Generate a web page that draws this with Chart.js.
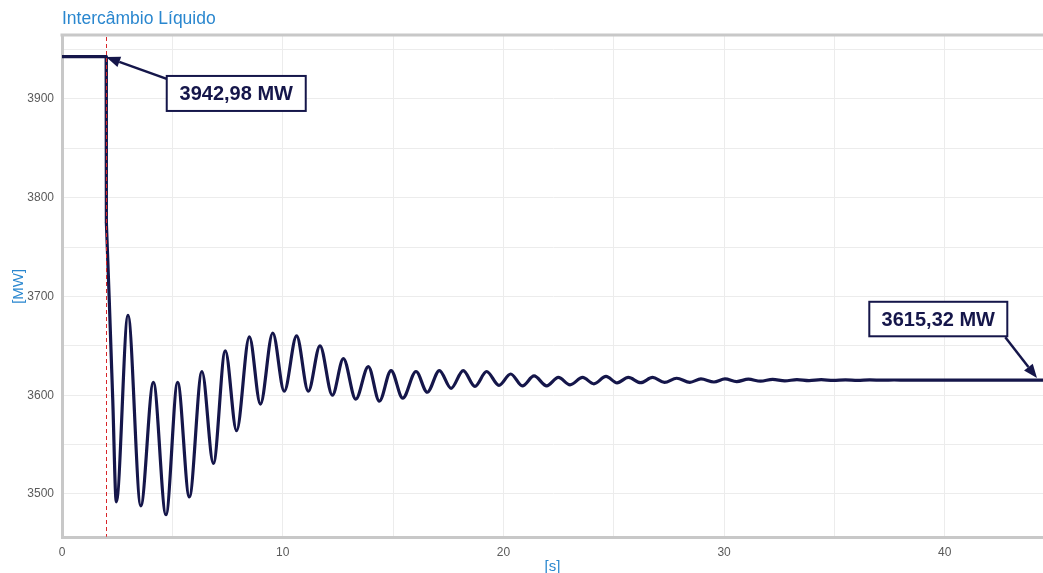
<!DOCTYPE html>
<html lang="pt">
<head>
<meta charset="utf-8">
<title>Intercâmbio Líquido</title>
<script src="https://cdn.jsdelivr.net/npm/chart.js@4/dist/chart.umd.min.js"></script>
<style>
  html, body { margin: 0; padding: 0; background: #ffffff; }
  #wrap { width: 1043px; height: 573px; position: relative; }
</style>
</head>
<body>
<div id="wrap"><canvas id="chart" width="1043" height="573"></canvas></div>
<script>
// Time axis (s) and net interchange (MW) at the turning points of the response
const timeS = [
  0, 2.0, 2.01, 2.14, 2.30, 2.46, 2.99, 3.57, 4.14, 4.71, 5.24, 5.77, 6.34, 6.86,
  7.40, 7.91, 8.49, 8.99, 9.55, 10.07, 10.63, 11.16, 11.69, 12.25, 12.75, 13.31,
  13.88, 14.38, 14.91, 15.44, 16.04, 16.55, 17.10, 17.63, 18.18, 18.71, 19.24,
  19.80, 20.33, 20.86, 21.39, 21.96, 22.49, 23.02, 23.59, 24.10, 24.65, 25.15,
  25.66, 26.22, 26.76, 27.30, 27.85, 28.45, 28.95, 29.54, 30.04, 30.57, 31.10,
  31.65, 32.20, 32.75, 33.30, 33.85, 34.40, 34.95, 35.50, 36.05, 36.60, 37.20,
  37.70, 38.30, 40.00, 42.00, 44.45
];
const powerMW = [
  3942.98, 3942.98, 3775, 3697, 3595, 3492, 3681, 3488, 3613, 3479, 3613, 3497,
  3624, 3531, 3645, 3564, 3659, 3591, 3663, 3604, 3660, 3604, 3650, 3600, 3637,
  3596, 3629, 3594, 3625, 3597, 3624, 3603, 3625, 3607, 3625, 3609, 3624, 3610,
  3621.5, 3609.5, 3619.5, 3609.5, 3618, 3610.5, 3618, 3611.5, 3619, 3612.5, 3618,
  3612.7, 3618, 3613, 3617.2, 3613.1, 3616.5, 3613.4, 3616.5, 3613.8, 3616.2,
  3614.2, 3616, 3614.5, 3615.8, 3614.8, 3615.7, 3615, 3615.6, 3615.1, 3615.5,
  3615.2, 3615.4, 3615.2, 3615.3, 3615.3, 3615.32
];
const eventTimeS = 2.0;
const stepEndIndex = 2;          // last sample of the instantaneous step
const xRange = [0, 44.45];
const yRange = [3455.7, 3964.8];
const xLabelStep = 10;
const yLabelStep = 100;

const chartTitle = 'Intercâmbio Líquido';
const xTitle = '[s]';
const yTitle = '[MW]';

const navy = '#15164a';
const blue = '#2a87cf';
const axisGrey = '#c8c8c8';
const gridGrey = '#ececec';
const font = '"Liberation Sans", Arial, sans-serif';

const points = timeS.map((t, i) => ({ x: t, y: powerMW[i] }));
const fmtMW = v => v.toFixed(2).replace('.', ',') + ' MW';

// Callouts for the pre-event value and the settled value
const callouts = [
  { index: 1, dx: 60.6, dy: 19.4, w: 139, h: 35, fromX: 0, fromY: 3, tipX: 0, tipY: 0.5 },
  { index: points.length - 1, dx: -173.7, dy: -78.3, w: 138, h: 34.5, fromX: 136, fromY: 35.5, tipX: -6, tipY: -2 }
];

function arrow(ctx, x0, y0, x1, y1) {
  const a = Math.atan2(y1 - y0, x1 - x0);
  const len = 14, half = 5.5;
  const bx = x1 - len * Math.cos(a), by = y1 - len * Math.sin(a);
  ctx.beginPath();
  ctx.moveTo(x0, y0);
  ctx.lineTo(bx, by);
  ctx.stroke();
  ctx.beginPath();
  ctx.moveTo(x1, y1);
  ctx.lineTo(bx + half * Math.sin(a), by - half * Math.cos(a));
  ctx.lineTo(bx - half * Math.sin(a), by + half * Math.cos(a));
  ctx.closePath();
  ctx.fill();
}

const overlay = {
  id: 'overlay',
  afterDraw(chart) {
    const { ctx, chartArea, scales } = chart;
    ctx.save();
    // title
    ctx.font = '17.5px ' + font;
    ctx.fillStyle = blue;
    ctx.textAlign = 'left';
    ctx.textBaseline = 'alphabetic';
    ctx.fillText(chartTitle, chartArea.left, 24);
    // top frame line
    ctx.strokeStyle = axisGrey;
    ctx.lineWidth = 3;
    ctx.beginPath();
    ctx.moveTo(chartArea.left - 1.5, chartArea.top);
    ctx.lineTo(chart.width, chartArea.top);
    ctx.stroke();
    // event marker
    const ex = scales.x.getPixelForValue(eventTimeS);
    ctx.strokeStyle = '#d8262a';
    ctx.lineWidth = 1;
    ctx.setLineDash([4, 3]);
    ctx.beginPath();
    ctx.moveTo(Math.round(ex) + 0.5, chartArea.top + 2);
    ctx.lineTo(Math.round(ex) + 0.5, chartArea.bottom - 1);
    ctx.stroke();
    ctx.setLineDash([]);
    // callouts
    callouts.forEach(c => {
      const p = points[c.index];
      const px = scales.x.getPixelForValue(p.x);
      const py = scales.y.getPixelForValue(p.y);
      const bx = px + c.dx, by = py + c.dy;
      ctx.strokeStyle = navy;
      ctx.fillStyle = navy;
      ctx.lineWidth = 2.5;
      arrow(ctx, bx + c.fromX, by + c.fromY, px + c.tipX, py + c.tipY);
      ctx.fillStyle = '#ffffff';
      ctx.fillRect(bx, by, c.w, c.h);
      ctx.lineWidth = 2;
      ctx.strokeStyle = navy;
      ctx.strokeRect(bx, by, c.w, c.h);
      ctx.fillStyle = navy;
      ctx.font = 'bold 20px ' + font;
      ctx.textAlign = 'center';
      ctx.textBaseline = 'middle';
      ctx.fillText(fmtMW(p.y), bx + c.w / 2, by + c.h / 2 + 1);
    });
    ctx.restore();
  }
};

const lineStyle = {
  borderColor: navy,
  borderWidth: 3.2,
  pointRadius: 0,
  fill: false,
  borderJoinStyle: 'round'
};

new Chart(document.getElementById('chart'), {
  type: 'line',
  data: {
    datasets: [
      // steady state and the instantaneous step
      Object.assign({ data: points.slice(0, stepEndIndex + 1), tension: 0 }, lineStyle),
      // electromechanical oscillation after the event
      Object.assign({ data: points.slice(stepEndIndex), cubicInterpolationMode: 'monotone' }, lineStyle)
    ]
  },
  options: {
    responsive: false,
    animation: false,
    devicePixelRatio: 1,
    parsing: false,
    layout: { padding: { top: 35, right: 0, left: 0, bottom: 0 } },
    plugins: {
      legend: { display: false },
      title: { display: false },
      tooltip: { enabled: false }
    },
    scales: {
      x: {
        type: 'linear',
        min: xRange[0],
        max: xRange[1],
        afterFit: s => { s.height = 35.3; },
        border: { color: axisGrey, width: 3 },
        grid: { color: gridGrey, lineWidth: 1, drawTicks: false },
        ticks: {
          stepSize: 5,
          includeBounds: false,
          autoSkip: false,
          maxRotation: 0,
          padding: 8,
          color: '#5a5a5a',
          font: { family: font, size: 12 },
          callback: v => (v % xLabelStep === 0 ? String(v) : '')
        },
        title: {
          display: true,
          text: xTitle,
          color: blue,
          font: { family: font, size: 15 },
          padding: { top: 0, bottom: -3 }
        }
      },
      y: {
        type: 'linear',
        min: yRange[0],
        max: yRange[1],
        afterFit: s => { s.width = 62; },
        border: { color: axisGrey, width: 3 },
        grid: { color: gridGrey, lineWidth: 1, drawTicks: false },
        ticks: {
          stepSize: 50,
          includeBounds: false,
          autoSkip: false,
          padding: 8,
          color: '#5a5a5a',
          font: { family: font, size: 12 },
          callback: v => (v % yLabelStep === 0 ? String(v) : '')
        },
        title: {
          display: true,
          text: yTitle,
          color: blue,
          font: { family: font, size: 15 },
          padding: { top: 10, bottom: 0 }
        }
      }
    }
  },
  plugins: [overlay]
});
</script>
</body>
</html>
